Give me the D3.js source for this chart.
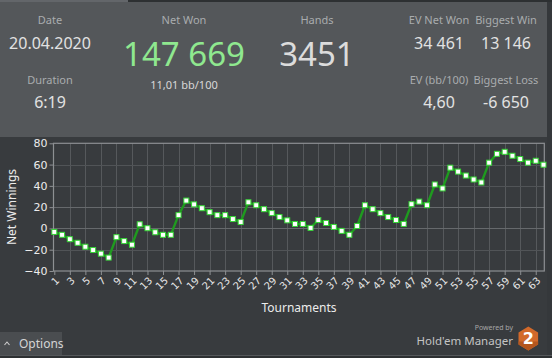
<!DOCTYPE html>
<html><head><meta charset="utf-8">
<script src="https://cdn.jsdelivr.net/npm/d3@7"></script>
<style>
html,body{margin:0;padding:0;background:#383b3e;overflow:hidden;}
svg{display:block;}
</style></head>
<body>
<svg id="c" width="552" height="358"></svg>
<script>
// ---- data ----
const tournaments = [1,2,3,4,5,6,7,8,9,10,11,12,13,14,15,16,17,18,19,20,21,22,23,24,25,26,27,28,29,30,31,32,33,34,35,36,37,38,39,40,41,42,43,44,45,46,47,48,49,50,51,52,53,54,55,56,57,58,59,60,61,62,63,64];
const netWinnings = [-3.3,-6.0,-10.1,-13.5,-17.2,-20.3,-23.7,-27.4,-8.2,-11.9,-15.3,3.9,0.2,-3.6,-6.0,-6.0,12.5,26.2,22.6,19.0,15.3,12.5,12.5,8.8,6.0,24.6,21.8,18.1,14.4,10.7,7.6,4.2,4.2,0.5,7.9,5.1,1.4,-2.3,-6.0,2.3,21.8,18.1,14.4,10.7,7.9,4.2,22.8,25.2,21.8,41.3,37.6,57.1,53.4,49.7,46.0,43.2,61.8,70.1,72.0,68.3,65.2,61.8,63.6,59.9];
const xTickLabels = [1,3,5,7,9,11,13,15,17,19,21,23,25,27,29,31,33,35,37,39,41,43,45,47,49,51,53,55,57,59,61,63];
const yTickLabels = [-40,-20,0,20,40,60,80];
const headerLabels = ["Date","Duration","Net Won","Hands","EV Net Won","Biggest Win","EV (bb/100)","Biggest Loss"];
const headerValues = ["20.04.2020","6:19","147 669","3451","34 461","13 146","4,60","-6 650"];
const netWonSub = "11,01 bb/100";

(function(){
const svg = d3.select("#c");
const W = 552, H = 358;

// backgrounds
svg.append("rect").attr("x",0).attr("y",0).attr("width",W).attr("height",H).attr("fill","#383b3e");
svg.append("rect").attr("x",0).attr("y",0).attr("width",W).attr("height",137).attr("fill","#54575a");
svg.append("rect").attr("x",0).attr("y",0).attr("width",W).attr("height",2).attr("fill","#2d3032");
svg.append("rect").attr("x",0).attr("y",0).attr("width",128).attr("height",2).attr("fill","#63666a");
svg.append("rect").attr("x",547).attr("y",2).attr("width",5).attr("height",H).attr("fill","#35383b");
svg.append("rect").attr("x",0).attr("y",355).attr("width",W).attr("height",1).attr("fill","#55585b");
svg.append("rect").attr("x",0).attr("y",356).attr("width",W).attr("height",2).attr("fill","#2d3032");

// header
const hf = "'Noto Sans','Open Sans',sans-serif";
const hdr = [
  {l:0, x:50, ly:24, vy:49, size:16, fill:"#e2e2e2"},
  {l:1, x:50, ly:84, vy:108, size:16, fill:"#e2e2e2"},
  {l:2, x:184, ly:24, vy:66, size:33, fill:"#8fe88f"},
  {l:3, x:317, ly:24, vy:66, size:33, fill:"#dcdcdc"},
  {l:4, x:439, ly:24, vy:49, size:16, fill:"#e2e2e2"},
  {l:5, x:506, ly:24, vy:49, size:16, fill:"#e2e2e2"},
  {l:6, x:439, ly:84, vy:108, size:16, fill:"#e2e2e2"},
  {l:7, x:506, ly:84, vy:108, size:16, fill:"#e2e2e2"}
];
hdr.forEach(h => {
  svg.append("text").attr("x",h.x).attr("y",h.ly).attr("text-anchor","middle")
    .attr("font-family",hf).attr("font-size",11).attr("fill","#a9acae").text(headerLabels[h.l]);
  svg.append("text").attr("x",h.x).attr("y",h.vy).attr("text-anchor","middle")
    .attr("font-family",hf).attr("font-size",h.size).attr("fill",h.fill).text(headerValues[h.l]);
});
svg.append("text").attr("x",184).attr("y",89).attr("text-anchor","middle")
  .attr("font-family",hf).attr("font-size",11).attr("fill","#d8d8d8").text(netWonSub);

// chart
const pL = 53.5, pR = 544.3, pT = 143.3, pB = 271;
const x = d3.scaleLinear().domain([1,64]).range([54.3,543.5]);
const y = d3.scaleLinear().domain([-40,80]).range([pB, pT]);

const g = svg.append("g");
g.selectAll(".vg").data(xTickLabels.filter(d=>d>1)).join("line")
  .attr("x1",d=>Math.round(x(d))+0.5).attr("x2",d=>Math.round(x(d))+0.5)
  .attr("y1",pT).attr("y2",pB).attr("stroke","#56595c").attr("stroke-width",1);
g.selectAll(".hg").data(yTickLabels.filter(d=>d>-40 && d<80)).join("line")
  .attr("x1",pL).attr("x2",pR)
  .attr("y1",d=>Math.round(y(d))+0.5).attr("y2",d=>Math.round(y(d))+0.5)
  .attr("stroke",d=> (d===20||d===0) ? "#66696c" : "#515457").attr("stroke-width",1);
g.append("rect").attr("x",pL).attr("y",pT).attr("width",pR-pL).attr("height",pB-pT)
  .attr("fill","none").attr("stroke","#8d9093").attr("stroke-width",1.2);

const yAxis = d3.axisLeft(y).tickValues(yTickLabels).tickSize(4).tickPadding(2);
const ya = svg.append("g").attr("transform",`translate(${pL},0)`).call(yAxis);
ya.select(".domain").remove();
ya.selectAll("line").attr("stroke","#8d9093");
ya.selectAll("text").attr("font-family","'DejaVu Sans',Verdana,sans-serif").attr("font-size",11).attr("fill","#ececec");

const xAxis = d3.axisBottom(x).tickValues(xTickLabels).tickSize(4).tickFormat(d3.format("d"));
const xa = svg.append("g").attr("transform",`translate(0,${pB})`).call(xAxis);
xa.select(".domain").remove();
xa.selectAll("line").attr("stroke","#8d9093");
xa.selectAll("text").attr("font-family","'DejaVu Sans',Verdana,sans-serif").attr("font-size",10).attr("fill","#e6e6e6")
  .attr("text-anchor","end").attr("dy",null).attr("y",null)
  .attr("transform","translate(3,8) rotate(-45)").attr("dominant-baseline","middle");

svg.append("text").attr("transform","translate(16,207) rotate(-90)").attr("text-anchor","middle")
  .attr("font-family",hf).attr("font-size",12).attr("fill","#ececec").text("Net Winnings");
svg.append("text").attr("x",299).attr("y",312).attr("text-anchor","middle")
  .attr("font-family",hf).attr("font-size",12).attr("fill","#ececec").text("Tournaments");

const pts = tournaments.map((t,i)=>[t,netWinnings[i]]);
svg.append("path").datum(pts).attr("fill","none").attr("stroke","#1f9a1f").attr("stroke-width",2.4)
  .attr("stroke-linejoin","round")
  .attr("d", d3.line().x(d=>x(d[0])).y(d=>y(d[1])));
svg.selectAll(".pt").data(pts).join("rect")
  .attr("x",d=>x(d[0])-2.5).attr("y",d=>y(d[1])-2.5).attr("width",5).attr("height",5)
  .attr("fill","#ffffff").attr("stroke","#36d436").attr("stroke-width",1);

svg.append("rect").attr("x",0).attr("y",332).attr("width",62).attr("height",23).attr("fill","#4a4d50");
svg.append("path").attr("d","M4.5,345 L7,342 L9.5,345").attr("fill","none").attr("stroke","#cfcfcf").attr("stroke-width",1.1);
svg.append("text").attr("x",19).attr("y",348).attr("font-family",hf).attr("font-size",12).attr("fill","#d4d4d4").text("Options");

svg.append("text").attr("x",513).attr("y",330).attr("text-anchor","end").attr("font-family",hf)
  .attr("font-size",7).attr("fill","#a6a6a6").text("Powered by");
svg.append("text").attr("x",513).attr("y",345).attr("text-anchor","end").attr("font-family",hf)
  .attr("font-size",11.5).attr("fill","#c4c4c4").text("Hold'em Manager");
const cx = 528.3, cy = 338.5, r = 12, hw = 9.8;
const hex = [[cx,cy-r],[cx+hw,cy-r/2],[cx+hw,cy+r/2],[cx,cy+r],[cx-hw,cy+r/2],[cx-hw,cy-r/2]];
svg.append("polygon").attr("points",hex.map(p=>p.join(",")).join(" ")).attr("fill","#d2692a");
svg.append("polygon").attr("points",[[cx-hw,cy+r/2],[cx,cy+r],[cx+hw,cy+r/2],[cx+hw,cy+r*0.25],[cx-hw,cy+r*0.25]].map(p=>p.join(",")).join(" ")).attr("fill","#b4561e");
svg.append("text").attr("x",cx).attr("y",cy+5.5).attr("text-anchor","middle").attr("font-family","'DejaVu Sans',sans-serif")
  .attr("font-weight","bold").attr("font-size",16).attr("fill","#ffffff").text("2");
})();
</script>
</body></html>
